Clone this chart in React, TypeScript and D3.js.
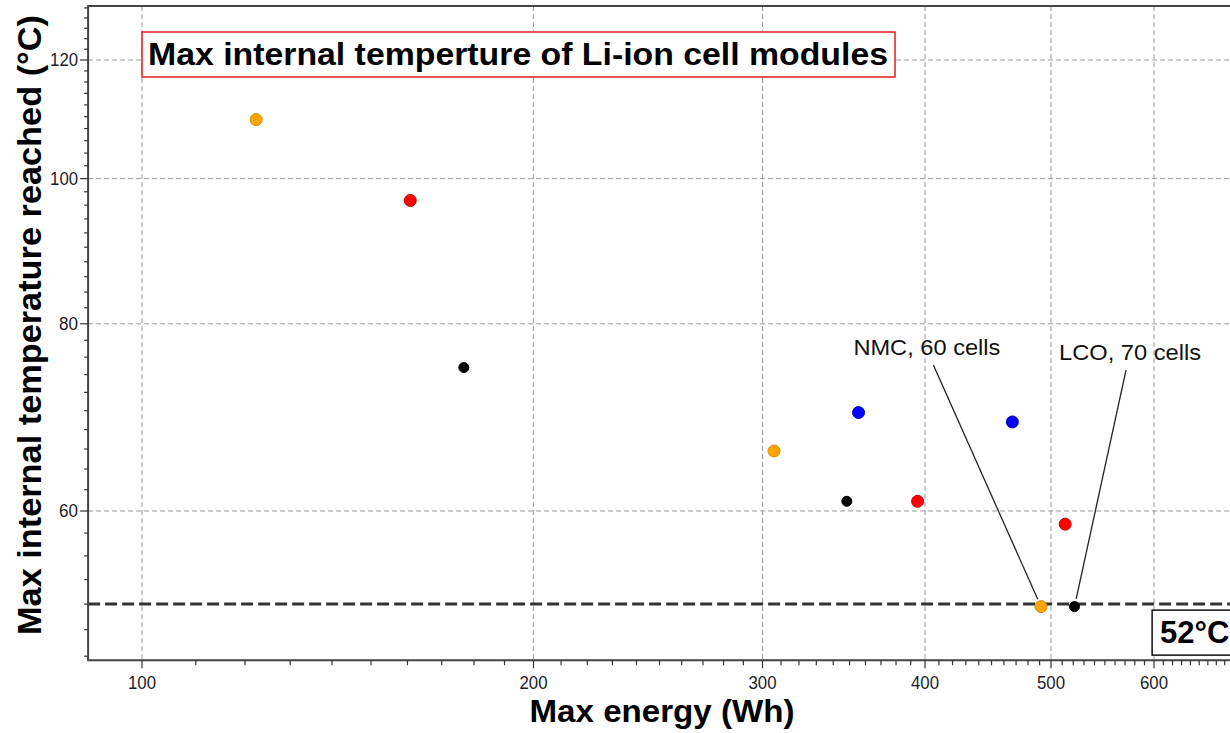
import React, { useEffect, useRef } from "react";
import * as d3 from "d3";

// values (energy in Wh, temperature in °C)
const orangeEnergy = [122.4, 306.2, 491.2];
const orangeTemp = [109.5, 65.8, 51.8];
const redEnergy = [160.8, 394.8, 512.7];
const redTemp = [96.7, 60.9, 58.8];
const blueEnergy = [355.6, 466.9];
const blueTemp = [69.8, 68.8];
const blackEnergy = [176.8, 348.3, 521.2];
const blackTemp = [74.8, 60.9, 51.8];

const xTicks = [100, 200, 300, 400, 500, 600];
const yTicks = [60, 80, 100, 120];
const limitTemp = 52;

const noteLabels = ["NMC, 60 cells", "LCO, 70 cells"];
const noteEnergy = [491.2, 521.2];
const noteTemp = [51.8, 51.8];
const noteTopEnergy = [406, 571];
const noteTopTemp = [75.1, 74.5];

const FONT = "'Liberation Sans', Arial, sans-serif";

const drawChart = (svgEl: SVGSVGElement) => {
	const width = 1230,
		height = 733;

	const x = d3.scaleLog().domain([100, 600]).range([142, 1154]);
	const y = d3.scaleLog().domain([60, 120]).range([511, 60]);
	const xMin = 90.9,
		xMax = 720,
		yMin = 47.7,
		yMax = 130.4;

	const svg = d3.select(svgEl);
	svg.selectAll("*").remove();
	svg.attr("width", width).attr("height", height);

	svg.append("rect").attr("width", width).attr("height", height).attr("fill", "#fff");

	const left = x(xMin),
		right = x(xMax),
		top = y(yMax),
		bottom = y(yMin);

	// grid
	const grid = svg.append("g").attr("stroke", "#9a9a9a").attr("stroke-width", 1).attr("stroke-dasharray", "5,3");
	grid
		.selectAll("line.v")
		.data(xTicks)
		.enter()
		.append("line")
		.attr("x1", (d) => x(d))
		.attr("x2", (d) => x(d))
		.attr("y1", top)
		.attr("y2", bottom);
	grid
		.selectAll("line.h")
		.data(yTicks)
		.enter()
		.append("line")
		.attr("x1", left)
		.attr("x2", right)
		.attr("y1", (d) => y(d))
		.attr("y2", (d) => y(d));

	// 52°C limit line
	svg
		.append("line")
		.attr("x1", left)
		.attr("x2", right)
		.attr("y1", y(limitTemp))
		.attr("y2", y(limitTemp))
		.attr("stroke", "#333")
		.attr("stroke-width", 3)
		.attr("stroke-dasharray", "12,5");

	// axes frame
	const frame = svg.append("g").attr("stroke", "#444").attr("stroke-width", 2).attr("fill", "none");
	frame.append("path").attr("d", `M${right},${top}H${left}V${bottom}H${right}`);

	// minor/major ticks
	const xMinor = d3.range(100, 700, 10).filter((d) => !xTicks.includes(d));
	const yMinor = d3.range(48, 131, 2).filter((d) => !yTicks.includes(d));
	const ticks = svg.append("g").attr("stroke", "#333").attr("stroke-width", 1.2);
	ticks
		.selectAll("line.xm")
		.data(xMinor)
		.enter()
		.append("line")
		.attr("x1", (d) => x(d))
		.attr("x2", (d) => x(d))
		.attr("y1", bottom)
		.attr("y2", bottom + 5);
	ticks
		.selectAll("line.xM")
		.data(xTicks)
		.enter()
		.append("line")
		.attr("x1", (d) => x(d))
		.attr("x2", (d) => x(d))
		.attr("y1", bottom)
		.attr("y2", bottom + 8);
	ticks
		.selectAll("line.ym")
		.data(yMinor)
		.enter()
		.append("line")
		.attr("x1", left - 4)
		.attr("x2", left)
		.attr("y1", (d) => y(d))
		.attr("y2", (d) => y(d));
	ticks
		.selectAll("line.yM")
		.data(yTicks)
		.enter()
		.append("line")
		.attr("x1", left - 8)
		.attr("x2", left)
		.attr("y1", (d) => y(d))
		.attr("y2", (d) => y(d));

	// tick labels
	svg
		.append("g")
		.selectAll("text")
		.data(xTicks)
		.enter()
		.append("text")
		.attr("x", (d) => x(d))
		.attr("y", bottom + 29)
		.attr("text-anchor", "middle")
		.attr("font-family", FONT)
		.attr("font-size", 18)
		.attr("fill", "#1c1c2a")
		.attr("textLength", 28)
		.attr("lengthAdjust", "spacingAndGlyphs")
		.text((d) => d);
	svg
		.append("g")
		.selectAll("text")
		.data(yTicks)
		.enter()
		.append("text")
		.attr("x", left - 10)
		.attr("y", (d) => y(d) + 6)
		.attr("text-anchor", "end")
		.attr("font-family", FONT)
		.attr("font-size", 18)
		.attr("fill", "#1c1c2a")
		.attr("textLength", (d) => (d >= 100 ? 28 : 19))
		.attr("lengthAdjust", "spacingAndGlyphs")
		.text((d) => d);

	// axis titles
	svg
		.append("text")
		.attr("x", 662)
		.attr("y", 722)
		.attr("text-anchor", "middle")
		.attr("font-family", FONT)
		.attr("font-weight", "bold")
		.attr("font-size", 32)
		.attr("textLength", 265)
		.attr("lengthAdjust", "spacingAndGlyphs")
		.text("Max energy (Wh)");
	svg
		.append("text")
		.attr("transform", "translate(41,325) rotate(-90)")
		.attr("text-anchor", "middle")
		.attr("font-family", FONT)
		.attr("font-weight", "bold")
		.attr("font-size", 33)
		.attr("textLength", 620)
		.attr("lengthAdjust", "spacingAndGlyphs")
		.text("Max internal temperature reached (°C)");

	// annotations
	noteLabels.forEach((label, i) => {
		const px = x(noteEnergy[i]),
			py = y(noteTemp[i]);
		const tx = x(noteTopEnergy[i]),
			ty = y(noteTopTemp[i]);
		const len = Math.hypot(tx - px, ty - py);
		svg
			.append("line")
			.attr("x1", tx)
			.attr("y1", ty)
			.attr("x2", px + ((tx - px) / len) * 8)
			.attr("y2", py + ((ty - py) / len) * 8)
			.attr("stroke", "#222")
			.attr("stroke-width", 1.3);
		svg
			.append("text")
			.attr("x", i === 0 ? tx - 80 : tx - 67)
			.attr("y", ty - 10)
			.attr("font-family", FONT)
			.attr("font-size", 22)
			.attr("fill", "#111")
			.attr("textLength", i === 0 ? 147 : 142)
			.attr("lengthAdjust", "spacingAndGlyphs")
			.text(label);
	});

	// points
	const series = [
		{ ex: orangeEnergy, ty: orangeTemp, fill: "#ffa500", stroke: "#d98c00", r: 6 },
		{ ex: redEnergy, ty: redTemp, fill: "#ff0000", stroke: "#c80000", r: 6 },
		{ ex: blueEnergy, ty: blueTemp, fill: "#0000ff", stroke: "#0000c0", r: 6 },
		{ ex: blackEnergy, ty: blackTemp, fill: "#000", stroke: "#000", r: 5 },
	];
	series.forEach((s) => {
		svg
			.append("g")
			.selectAll("circle")
			.data(s.ex)
			.enter()
			.append("circle")
			.attr("cx", (d) => x(d))
			.attr("cy", (d, i) => y(s.ty[i]))
			.attr("r", s.r)
			.attr("fill", s.fill)
			.attr("stroke", s.stroke)
			.attr("stroke-width", 1);
	});

	// 52°C box
	const by = y(limitTemp);
	svg
		.append("rect")
		.attr("x", x(598))
		.attr("y", by + 6)
		.attr("width", 120)
		.attr("height", 45)
		.attr("fill", "#fff")
		.attr("stroke", "#111")
		.attr("stroke-width", 1.5);
	svg
		.append("text")
		.attr("x", x(598) + 8)
		.attr("y", by + 39)
		.attr("font-family", FONT)
		.attr("font-weight", "bold")
		.attr("font-size", 31)
		.text(`${limitTemp}°C`);

	// title box
	svg
		.append("rect")
		.attr("x", 142)
		.attr("y", 32)
		.attr("width", 753)
		.attr("height", 45)
		.attr("fill", "#fff")
		.attr("stroke", "#e21b1b")
		.attr("stroke-width", 1.5);
	svg
		.append("text")
		.attr("x", 148)
		.attr("y", 65)
		.attr("font-family", FONT)
		.attr("font-weight", "bold")
		.attr("font-size", 31)
		.attr("textLength", 740)
		.attr("lengthAdjust", "spacingAndGlyphs")
		.text("Max internal temperture of Li-ion cell modules");
};

const App = () => {
	const svg = useRef<SVGSVGElement>(null);

	useEffect(() => {
		if (svg.current) drawChart(svg.current);
	}, []);

	return (
		<div style={{ position: "absolute", left: 0, top: 0 }}>
			<svg ref={svg} style={{ display: "block" }} />
		</div>
	);
};

export default App;
